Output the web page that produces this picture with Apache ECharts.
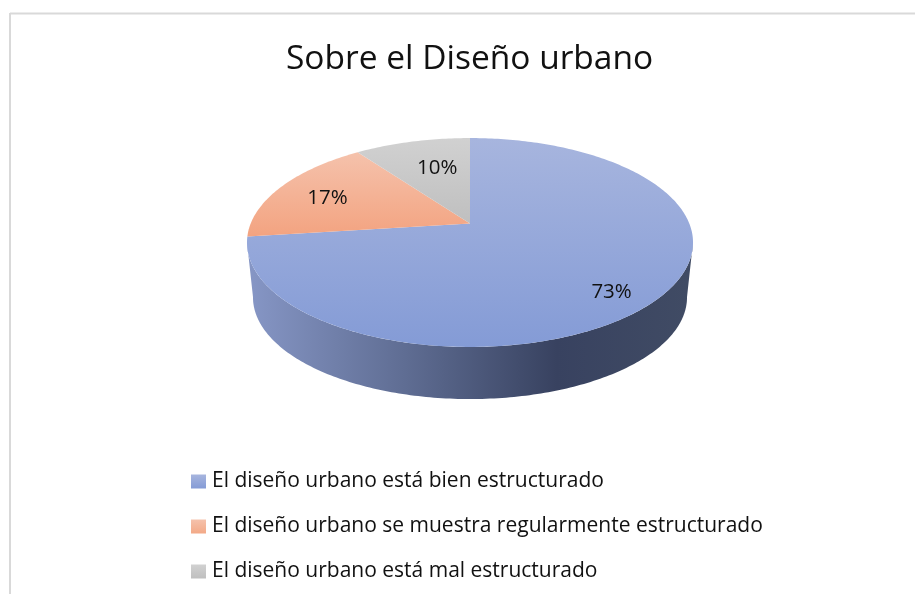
<!DOCTYPE html>
<html><head><meta charset="utf-8">
<style>html,body{margin:0;padding:0;background:#fff}#c{width:915px;height:594px}</style>
<script src="https://cdn.jsdelivr.net/npm/echarts@6/dist/echarts.min.js"></script>
</head><body><div id="c"></div>
<script>
const titleText = 'Sobre el Diseño urbano';
const categories = ['El diseño urbano está bien estructurado','El diseño urbano se muestra regularmente estructurado','El diseño urbano está mal estructurado'];
const values = [73, 17, 10];
const labels = ['73%', '17%', '10%'];

const FONT = '"Open Sans"';
const topGrad = [['#a7b5de','#849bd6'],['#f5c2ac','#f3a380'],['#d1d1d1','#bfbfbf']];
const legendGrad = [['#a7b5de','#849bd6'],['#f5c2ac','#f3a987'],['#d1d1d1','#bfbfbf']];
const labelPlace = [[0.78,0,11],[0.78,6,4],[0.6,4,-3]];

const chart = echarts.init(document.getElementById('c'));
const total = values.reduce((a,b)=>a+b,0);
const grad = (c)=>({type:'linear',x:0,y:0,x2:0,y2:1,colorStops:[{offset:0,color:c[0]},{offset:1,color:c[1]}]});

// perspective projection of a flat disc: near side larger than far side
const K = 0.1818;
const topFace = {cx:470, ay:223.5, a:219.3, b:101};
const botFace = {cx:470, ay:278.9, a:213.4, b:98.3};
function proj(f, th, r){
  const u = Math.sin(th)*r, v = -Math.cos(th)*r, w = 1 - K*v;
  return [f.cx + f.a*u/w, f.ay + f.b*v/w];
}
function sliceAngles(i){
  let s = 0; for(let j=0;j<i;j++) s += values[j];
  return [s/total*2*Math.PI, (s+values[i])/total*2*Math.PI];
}
function sidePoints(){
  const pts=[]; const N=180;
  const tL = 3*Math.PI/2 - 0.18, tR = Math.PI/2 + 0.18;
  for(let i=0;i<=N;i++) pts.push(proj(topFace, tR+(tL-tR)*i/N, 1));
  for(let i=0;i<=N;i++) pts.push(proj(botFace, tL+(tR-tL)*i/N, 1));
  return pts;
}
function renderSide(params, api){
  return {type:'polygon', silent:true, shape:{points:sidePoints()}, style:{fill:{
    type:'linear',x:253,y:0,x2:687,y2:0,global:true,colorStops:[
      {offset:0,color:'#8595c4'},{offset:0.35,color:'#5f6d93'},{offset:0.70,color:'#384260'},{offset:1,color:'#404b64'}]}}};
}
function renderSlice(params, api){
  const i = api.value(0);
  const [a0,a1] = sliceAngles(i);
  const pts=[proj(topFace,0,0)]; const N=Math.ceil((a1-a0)*60);
  for(let k=0;k<=N;k++) pts.push(proj(topFace,a0+(a1-a0)*k/N,1));
  const mid=(a0+a1)/2, pl=labelPlace[i], p=proj(topFace,mid,pl[0]);
  return {type:'group',children:[
    {type:'polygon',shape:{points:pts},style:{fill:grad(topGrad[i])}},
    {type:'text',z2:10,style:{text:labels[i],x:p[0]+pl[1],y:p[1]+pl[2],align:'center',verticalAlign:'middle',
      fill:'#111',font:'20.5px '+FONT}}
  ]};
}
const series = [{type:'custom',name:'_side',coordinateSystem:'none',renderItem:renderSide,data:[[0]],z:1,silent:true}];
categories.forEach((c,i)=>series.push({type:'custom',name:c,coordinateSystem:'none',renderItem:renderSlice,
  data:[[i]],z:2,itemStyle:{color:grad(legendGrad[i])},encode:{value:0}}));

chart.setOption({
  animation:false, backgroundColor:'#fff',
  title:{text:titleText,left:286,top:42,padding:0,textStyle:{fontFamily:FONT,fontSize:33.5,fontWeight:'normal',color:'#111'}},
  legend:{orient:'vertical',left:191,top:471,padding:0,itemWidth:15,itemHeight:14,itemGap:24,
    data:categories,selectedMode:false,icon:'rect',
    textStyle:{fontFamily:FONT,fontSize:21,color:'#111',padding:[0,0,0,1]}},
  graphic:[
    {type:'line',shape:{x1:10,y1:13.5,x2:915,y2:13.5},style:{stroke:'#d9d9d9',lineWidth:2},silent:true},
    {type:'line',shape:{x1:10,y1:13,x2:10,y2:594},style:{stroke:'#d9d9d9',lineWidth:2},silent:true}
  ],
  series
});
</script></body></html>
